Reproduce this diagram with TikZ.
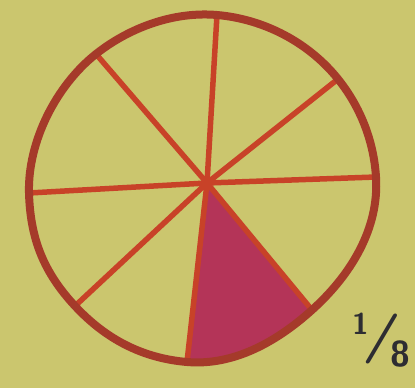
\documentclass[tikz,border=0pt]{standalone}
\usetikzlibrary{calc}
\definecolor{paper}{RGB}{203,198,110}
\definecolor{rim}{RGB}{165,58,42}
\definecolor{spoke}{RGB}{200,66,40}
\definecolor{piece}{RGB}{180,52,88}
\definecolor{ink}{RGB}{45,45,50}
\tikzset{
  rimline/.style={draw=rim,line width=8pt},
  spokeline/.style={draw=spoke,line width=5.5pt},
  fracnode/.style={text=ink,font=\sffamily\bfseries,inner sep=0pt}
}
\newcommand{\rseg}[3]{.. controls ($(#1)!#3pt!90:(O)$) and ($(#2)!#3pt!-90:(O)$) .. (#2)}
\begin{document}
\begin{tikzpicture}[x=1pt,y=-1pt]
\fill[paper] (0,0) rectangle (415,388);
\useasboundingbox (0,0) rectangle (415,388);
\coordinate (O) at (202,188);
\coordinate (C) at (207,183);
\coordinate (T) at (217,15);
\coordinate (UL) at (96,54);
\coordinate (UR) at (338,79);
\coordinate (L) at (29,193);
\coordinate (R) at (376,177);
\coordinate (LL) at (75,306);
\coordinate (B) at (187,362);
\coordinate (LR) at (312,310);
\def\rimpath{(T) \rseg{T}{UR}{47} \rseg{UR}{R}{36} \rseg{R}{LR}{52} \rseg{LR}{B}{47} \rseg{B}{LL}{45} \rseg{LL}{L}{46} \rseg{L}{UL}{51} \rseg{UL}{T}{43} -- cycle}
\begin{scope}
  \clip \rimpath;
  \fill[piece] (C) -- ($(C)!2!(B)$) -- ($(C)!2!(LR)$) -- cycle;
\end{scope}
\foreach \p in {T,UL,UR,L,R,LL,B,LR}
  \draw[spokeline] (C) -- (\p);
\draw[rimline,line join=round] \rimpath;
\node[fracnode] (frac) at (381,340) {\raisebox{17pt}{\fontsize{30}{30}\selectfont 1}\kern-3pt\fontsize{50}{50}\selectfont\slshape /\kern-3pt\raisebox{-15pt}{\upshape\fontsize{36}{36}\selectfont 8}};
\end{tikzpicture}
\end{document}
